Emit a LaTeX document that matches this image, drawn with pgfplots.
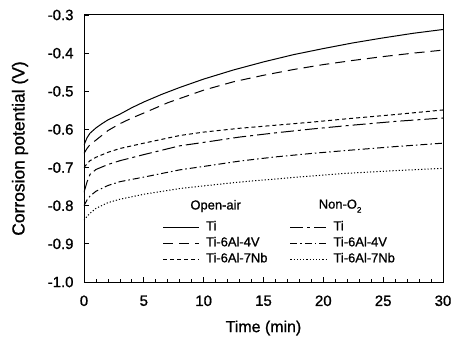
\documentclass[border=0pt]{standalone}
\usepackage{fontspec}
\setmainfont{Liberation Sans}[FakeBold=1]
\usepackage{pgfplots}
\pgfplotsset{compat=1.18}
\begin{document}
\begin{tikzpicture}
\begin{axis}[
  scale only axis, width=359bp, height=267bp,
  xmin=0, xmax=30, ymin=-1.0, ymax=-0.3,
  xtick={0,5,...,30}, minor x tick num=4,
  ytick={-1.0,-0.9,-0.8,-0.7,-0.6,-0.5,-0.4,-0.3},
  tick align=inside, xtick pos=left, ytick pos=left,
  major tick length=5bp, minor tick length=3bp,
  tick style={line width=0.8pt, black},
  axis line style={line width=1pt},
  /pgf/number format/assume math mode=true,
  ticklabel style={font=\fontsize{15}{15}\selectfont},
  yticklabel style={xshift=-7bp, /pgf/number format/fixed, /pgf/number format/fixed zerofill, /pgf/number format/precision=1},
  xticklabel style={yshift=-10bp},
  xlabel={Time (min)}, ylabel={Corrosion potential (V)},
  label style={font=\fontsize{16}{16}\selectfont},
  xlabel style={at={(axis description cs:0.5,-0.1723)}, anchor=center},
  ylabel style={at={(axis description cs:-0.1783,0.5)}, anchor=center, font=\fontsize{17.5}{17.5}\selectfont},
  legend columns=2,
  legend cell align=left,
  legend image code/.code={\draw[#1] (0bp,0bp) -- (36bp,0bp);},
  legend style={draw=none, fill=none, at={(axis description cs:0.21,0.243)}, anchor=north west,
    font=\fontsize{13}{13}\selectfont,
    nodes={inner sep=1.5bp, text height=9.5bp, text depth=3bp},
    row sep=0.5bp,
    /tikz/every odd column/.append style={column sep=5bp},
    /tikz/every even column/.append style={column sep=21bp}},
  every axis plot/.append style={line width=1bp, black},
]
% Open-air Ti (solid)
\addplot[solid] coordinates {(0,-0.641)(0.25,-0.622)(0.5,-0.610)(1,-0.596)(1.5,-0.585)(2,-0.575)(3,-0.560)(4,-0.543)(5,-0.528)(6.5,-0.508)(8,-0.490)(10,-0.468)(12.5,-0.444)(15,-0.423)(17.5,-0.404)(20,-0.388)(22.5,-0.373)(25,-0.360)(27.5,-0.348)(30,-0.338)};
\addlegendentry{Ti}
% Non-O2 Ti (long dash - short dash)
\addplot[dash pattern=on 13bp off 4bp on 3bp off 4bp] coordinates {(0,-0.765)(0.25,-0.738)(0.5,-0.718)(1,-0.705)(2,-0.692)(3,-0.682)(5,-0.666)(8,-0.643)(10,-0.634)(13,-0.620)(16,-0.609)(19,-0.599)(22,-0.590)(26,-0.579)(30,-0.570)};
\addlegendentry{Ti}
% Open-air Ti-6Al-4V (dashed)
\addplot[dash pattern=on 10bp off 6bp] coordinates {(0,-0.663)(0.25,-0.650)(0.5,-0.640)(1,-0.628)(2,-0.603)(3,-0.585)(4,-0.570)(5,-0.557)(7,-0.530)(10,-0.497)(12.5,-0.475)(15,-0.458)(17.5,-0.443)(20,-0.430)(22.5,-0.419)(25,-0.409)(27.5,-0.400)(30,-0.392)};
\addlegendentry{Ti-6Al-4V}
% Non-O2 Ti-6Al-4V (dash dot)
\addplot[dash pattern=on 7bp off 3bp on 1.5bp off 3bp] coordinates {(0,-0.800)(0.25,-0.785)(0.5,-0.775)(1,-0.762)(2,-0.747)(3,-0.737)(5,-0.725)(8,-0.706)(10,-0.697)(13,-0.683)(16,-0.672)(19,-0.663)(22,-0.655)(26,-0.645)(30,-0.636)};
\addlegendentry{Ti-6Al-4V}
% Open-air Ti-6Al-7Nb (short dash)
\addplot[dash pattern=on 4bp off 3bp] coordinates {(0,-0.700)(0.25,-0.690)(0.5,-0.682)(1,-0.673)(2,-0.660)(3,-0.650)(5,-0.636)(8,-0.616)(10,-0.607)(13,-0.597)(16,-0.589)(19,-0.581)(22,-0.572)(26,-0.561)(30,-0.549)};
\addlegendentry{Ti-6Al-7Nb}
% Non-O2 Ti-6Al-7Nb (dotted)
\addplot[dash pattern=on 1.2bp off 2bp] coordinates {(0,-0.838)(0.25,-0.828)(0.5,-0.820)(1,-0.807)(2,-0.792)(3,-0.783)(5,-0.770)(8,-0.755)(10,-0.748)(13,-0.738)(16,-0.730)(19,-0.722)(22,-0.715)(26,-0.708)(30,-0.702)};
\addlegendentry{Ti-6Al-7Nb}
\node[font=\fontsize{13}{13}\selectfont] at (axis cs:11.0,-0.801) {Open-air};
\node[font=\fontsize{13}{13}\selectfont] at (axis cs:21.4,-0.801) {Non-O\raisebox{-4bp}{\fontsize{8}{8}\selectfont 2}};
\end{axis}
\pgfresetboundingbox
\path[use as bounding box] (-84bp,-65bp) rectangle (378bp,282bp);
\end{tikzpicture}
\end{document}
